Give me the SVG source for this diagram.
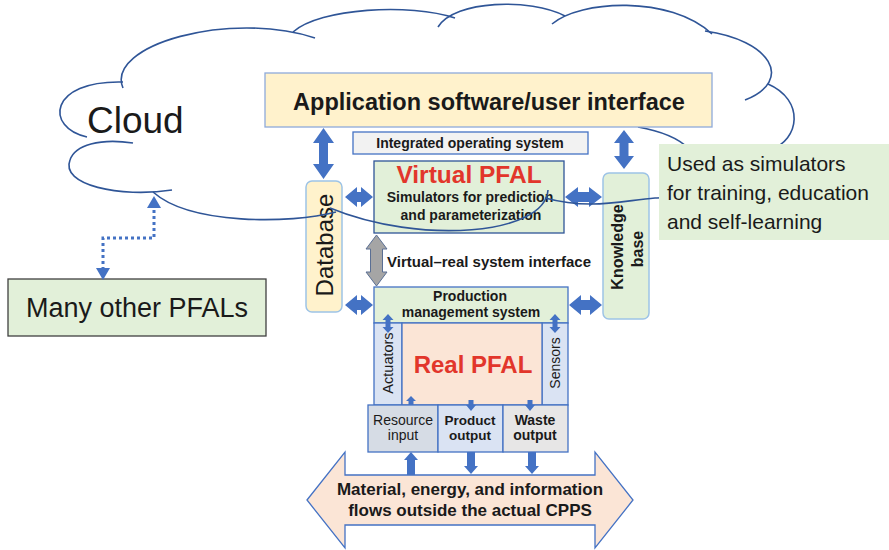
<svg xmlns="http://www.w3.org/2000/svg" width="889" height="550" viewBox="0 0 889 550">
<style>
text{font-family:"Liberation Sans",Arial,sans-serif;fill:#1a1a1a}
.b{font-weight:bold}
.red{fill:#e2362b;font-weight:bold}
.blk{fill:#4472c4}
.cl{fill:none;stroke:#2f5597;stroke-width:1.6}
.bx{stroke:#4472c4;stroke-width:1.3}
.grn{fill:#e2f0d9}
</style>
<rect width="889" height="550" fill="#ffffff"/>

<g id="many-other-pfals">
<rect x="8" y="279" width="258" height="57" class="grn" stroke="#404040" stroke-width="1.3"/>
<text x="137" y="317" font-size="27" text-anchor="middle">Many other PFALs</text>
</g>

<g id="database">
<rect x="306" y="181" width="36" height="131" rx="6" fill="#fff2cc" stroke="#9dc3e6" stroke-width="1.5"/>
<text transform="translate(325,245) rotate(-90)" font-size="24" text-anchor="middle" dy="0.35em">Database</text>
</g>

<g id="virtual-pfal">
<rect x="374" y="161" width="190" height="72" class="grn" stroke="#2f5597" stroke-width="1.3"/>
<text x="469" y="183" font-size="24.5" class="red" text-anchor="middle">Virtual PFAL</text>
<text x="470" y="202" font-size="14" class="b" text-anchor="middle">Simulators for prediction</text>
<text x="471" y="220" font-size="14" class="b" text-anchor="middle">and parameterization</text>
</g>

<g id="knowledge-base">
<rect x="603" y="173" width="46" height="146" rx="6" class="grn" stroke="#9dc3e6" stroke-width="1.5"/>
<text transform="translate(617,247) rotate(-90)" font-size="16" class="b" text-anchor="middle" dy="0.35em">Knowledge</text>
<text transform="translate(637,249) rotate(-90)" font-size="16" class="b" text-anchor="middle" dy="0.35em">base</text>
</g>

<g id="integrated-os">
<rect x="353" y="132" width="235" height="22" fill="#f2f2f2" class="bx"/>
<text x="470" y="148" font-size="14" class="b" text-anchor="middle">Integrated operating system</text>
</g>

<g id="interface-label">
<text x="489" y="267" font-size="15" class="b" text-anchor="middle">Virtual–real system interface</text>
</g>

<g id="production-management">
<rect x="374" y="287" width="194" height="36" class="grn bx"/>
<text x="470" y="301" font-size="14" class="b" text-anchor="middle">Production</text>
<text x="471" y="317" font-size="14" class="b" text-anchor="middle">management system</text>
</g>

<g id="actuators">
<rect x="374" y="323" width="28" height="82" fill="#dae3f3" class="bx"/>
<text transform="translate(388,363) rotate(-90)" font-size="14.5" text-anchor="middle" dy="0.35em">Actuators</text>
</g>

<g id="sensors">
<rect x="542" y="323" width="26" height="82" fill="#dae3f3" class="bx"/>
<text transform="translate(555,363) rotate(-90)" font-size="14" text-anchor="middle" dy="0.35em">Sensors</text>
</g>

<g id="real-pfal">
<rect x="402" y="323" width="140" height="82" fill="#fbe5d6" class="bx"/>
<text x="473" y="373" font-size="24" class="red" text-anchor="middle">Real PFAL</text>
</g>

<g id="resource-input">
<rect x="368" y="405" width="70" height="47" fill="#d6dce5" class="bx"/>
<text x="403" y="425" font-size="14" text-anchor="middle">Resource</text>
<text x="403" y="440" font-size="14" text-anchor="middle">input</text>
</g>

<g id="product-output">
<rect x="438" y="405" width="65" height="47" fill="#dae3f3" class="bx"/>
<text x="470" y="425" font-size="13.5" class="b" text-anchor="middle">Product</text>
<text x="470" y="440" font-size="13.5" class="b" text-anchor="middle">output</text>
</g>

<g id="waste-output">
<rect x="503" y="405" width="65" height="47" fill="#e7e6e6" class="bx"/>
<text x="535" y="425" font-size="14" class="b" text-anchor="middle">Waste</text>
<text x="535" y="440" font-size="14" class="b" text-anchor="middle">output</text>
</g>

<g id="external-flows">
<polygon points="307,500 345,452 345,475 595,475 595,452 633,500 595,548 595,525 345,525 345,548" fill="#fbe5d6" stroke="#4472c4" stroke-width="1.3"/>
<text x="470" y="495" font-size="17" class="b" text-anchor="middle">Material, energy, and information</text>
<text x="470" y="516" font-size="17" class="b" text-anchor="middle">flows outside the actual CPPS</text>
</g>

<g id="connectors">
<polygon class="blk" points="323.5,128 334,143 328,143 328,164 334,164 323.5,179 313,164 319,164 319,143 313,143"/>
<polygon class="blk" points="624,130 634,143 628.5,143 628.5,156 634,156 624,169 614,156 619.5,156 619.5,143 614,143"/>
<polygon class="blk" points="345,197 357,187 357,192 361,192 361,187 373,197 361,207 361,202 357,202 357,207"/>
<polygon class="blk" points="565,197 578,187 578,192 589,192 589,187 602,197 589,207 589,202 578,202 578,207"/>
<polygon class="blk" points="345,305 357,295 357,300 361,300 361,295 373,305 361,315 361,310 357,310 357,315"/>
<polygon class="blk" points="569,305 581,295 581,300 590,300 590,295 602,305 590,315 590,310 581,310 581,315"/>
<polygon points="376.5,235 387,249 382.5,249 382.5,272 387,272 376.5,286 366,272 370.5,272 370.5,249 366,249" fill="#a5a5a5" stroke="#5a6f94" stroke-width="1"/>
<polygon class="blk" points="388,314 393.5,320 390.5,320 390.5,327 393.5,327 388,333 382.5,327 385.5,327 385.5,320 382.5,320"/>
<polygon class="blk" points="555,314 560.5,320 557.5,320 557.5,327 560.5,327 555,333 549.5,327 552.5,327 552.5,320 549.5,320"/>
<polygon class="blk" points="411,396 416,401 413.5,401 413.5,405 408.5,405 408.5,401 406,401"/>
<polygon class="blk" points="468.5,400 473.5,400 473.5,405 476,405 471,411 466,405 468.5,405"/>
<polygon class="blk" points="527.5,400 532.5,400 532.5,405 535,405 530,411 525,405 527.5,405"/>
<polygon class="blk" points="411,452 418,460 415,460 415,475 407,475 407,460 404,460"/>
<polygon class="blk" points="467,452 475,452 475,466 478,466 471,474 464,466 467,466"/>
<polygon class="blk" points="528,452 536,452 536,466 539,466 532,474 525,466 528,466"/>
<path d="M103,270 V238 H154 V207" fill="none" stroke="#4472c4" stroke-width="3" stroke-dasharray="3,3"/>
<polygon class="blk" points="96,268 110,268 103,280"/>
<polygon class="blk" points="147,208 161,208 154,196"/>
</g>

<g id="cloud">
<path class="cl" d="M87,137 C45,128 48,80 123,82"/>
<path class="cl" d="M123,88 C105,45 230,10 315,38"/>
<path class="cl" d="M293,32 C320,8 410,3 455,18"/>
<path class="cl" d="M438,27 C455,0 530,-2 565,16"/>
<path class="cl" d="M552,24 C580,0 670,-5 712,34"/>
<path class="cl" d="M705,31 C770,40 795,80 745,100"/>
<path class="cl" d="M768,84 C805,100 800,140 770,150"/>
<path class="cl" d="M775,145 C760,200 680,196 655,198 C620,201 590,210 545,198"/>
<path class="cl" d="M638,127 C660,131 677,137 688,148"/>
<path class="cl" d="M548,190 C545,235 420,245 330,208"/>
<path class="cl" d="M336,212 C290,224 190,225 153,192"/>
<path class="cl" d="M172,190 C120,198 60,185 70,160 C75,145 100,138 133,143"/>
<text x="87" y="133" font-size="37">Cloud</text>
</g>

<g id="application-software">
<rect x="265" y="73" width="447" height="54" fill="#fff2cc" stroke="#8eaadb" stroke-width="1.3"/>
<text x="489" y="110" font-size="23.5" class="b" text-anchor="middle">Application software/user interface</text>
</g>

<g id="simulator-note">
<rect x="659" y="144" width="230" height="96" class="grn"/>
<text x="667" y="171" font-size="21">Used as simulators</text>
<text x="667" y="200" font-size="21">for training, education</text>
<text x="667" y="229" font-size="21">and self-learning</text>
</g>
</svg>
